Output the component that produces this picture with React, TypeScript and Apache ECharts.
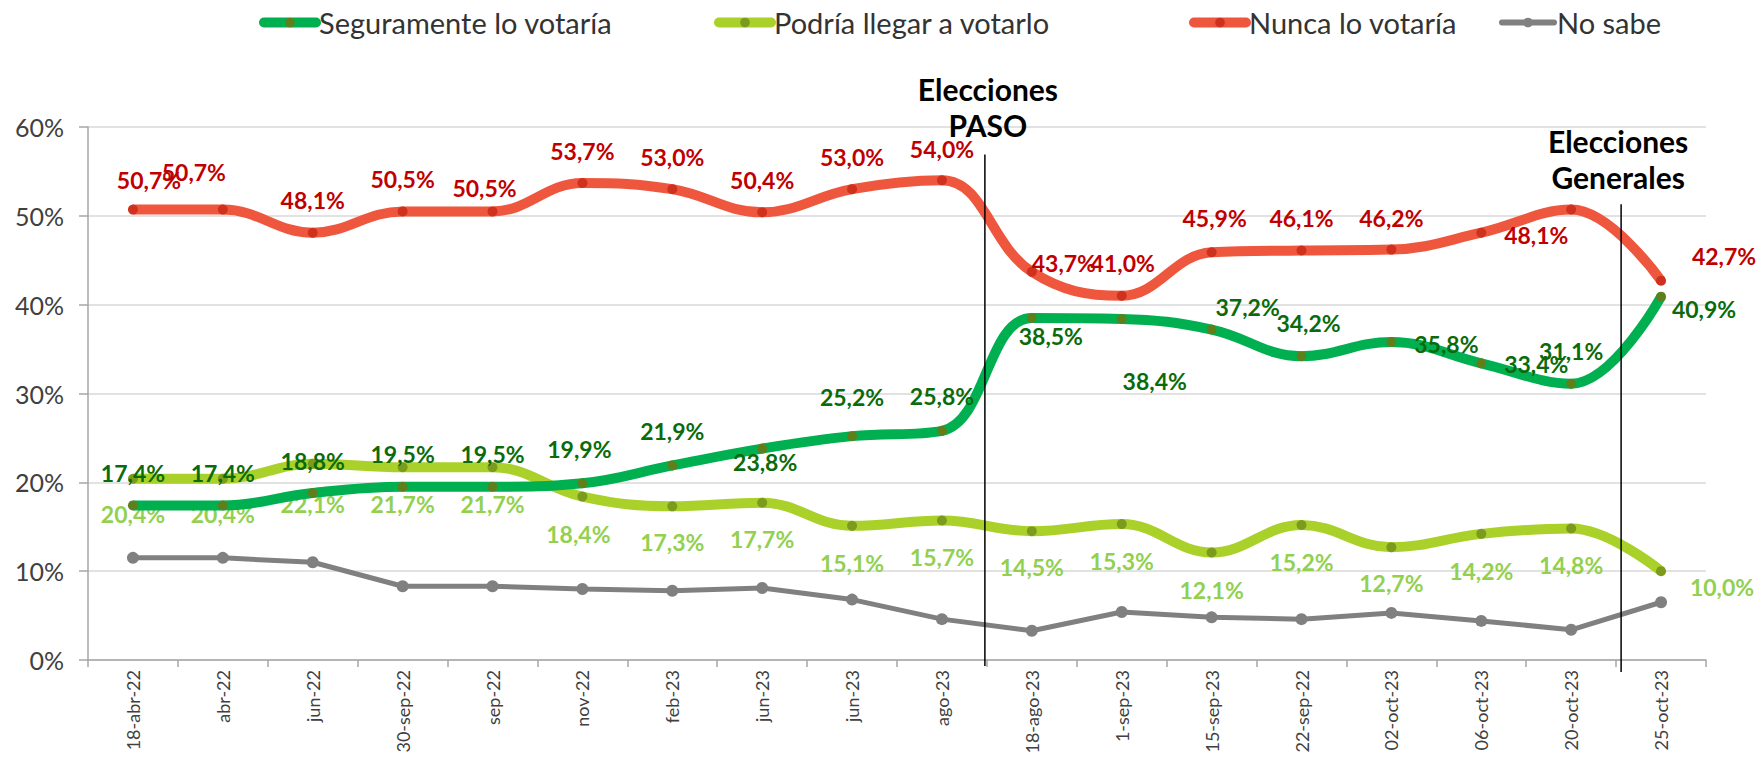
import React, { useEffect, useRef } from "react";
import * as echarts from "echarts";

const categories = ["18-abr-22", "abr-22", "jun-22", "30-sep-22", "sep-22", "nov-22", "feb-23", "jun-23", "jun-23", "ago-23", "18-ago-23", "1-sep-23", "15-sep-23", "22-sep-22", "02-oct-23", "06-oct-23", "20-oct-23", "25-oct-23"];
const seguramente = [17.4, 17.4, 18.8, 19.5, 19.5, 19.9, 21.9, 23.8, 25.2, 25.8, 38.5, 38.4, 37.2, 34.2, 35.8, 33.4, 31.1, 40.9];
const podria = [20.4, 20.4, 22.1, 21.7, 21.7, 18.4, 17.3, 17.7, 15.1, 15.7, 14.5, 15.3, 12.1, 15.2, 12.7, 14.2, 14.8, 10.0];
const nunca = [50.7, 50.7, 48.1, 50.5, 50.5, 53.7, 53.0, 50.4, 53.0, 54.0, 43.7, 41.0, 45.9, 46.1, 46.2, 48.1, 50.7, 42.7];
const noSabe = [11.5, 11.5, 11.0, 8.3, 8.3, 8.0, 7.8, 8.1, 6.8, 4.6, 3.3, 5.4, 4.8, 4.6, 5.3, 4.4, 3.4, 6.5];
const seriesNames = ["Seguramente lo votaría", "Podría llegar a votarlo", "Nunca lo votaría", "No sabe"];

// label placement (layout only)
const segOffsets: (number[] | null)[] = [[0, -32], [0, -32], [0, -32], [0, -33], [0, -33], [-3, -34], [0, -34], [3, 13], [0, -39], [0, -35], [19, 18], [33, 62], [36, -23], [7, -33], [55, 2], [55, 1], [0, -33], [43, 12]];
const podOffsets: (number[] | null)[] = [[0, 35], [0, 35], [0, 40], [0, 37], [0, 37], [-4, 37], [0, 36], [0, 36], [0, 37], [0, 36], [0, 36], [0, 37], [0, 37], [0, 37], [0, 36], [0, 37], [0, 36], [61, 16]];
const nunOffsets: (number[] | null)[] = [[16, -30], [-29, -38], [0, -33], [0, -32], [-8, -23], [0, -32], [0, -32], [0, -32], [0, -32], [0, -31], [32, -9], [1, -33], [3, -34], [0, -32], [0, -32], [55, 2], null, [63, -25]];

const FONT = "Lato";
const fmt = (v: number) => v.toFixed(1).replace(".", ",") + "%";

function withLabels(values: number[], offsets: (number[] | null)[]) {
  return values.map((v, i) => {
    const off = offsets[i];
    if (!off) return { value: v, label: { show: false } };
    return { value: v, label: { show: true, offset: off } };
  });
}

export default function App() {
  const ref = useRef<HTMLDivElement>(null);
  useEffect(() => {
    if (!ref.current) return;
    document.body.style.margin = "0";
    const chart = echarts.init(ref.current, undefined, { renderer: "svg" });
    const labelBase = (color: string) => ({
      show: true,
      position: "inside",
      color,
      fontFamily: FONT,
      fontWeight: "bold",
      fontSize: 23,
      formatter: (p: any) => fmt(p.value),
    });
    const legendText = { fontFamily: FONT, fontSize: 29, color: "#333", padding: [0, 0, 0, -2] };
    const legendPos = [254, 709, 1184, 1494];
    const legendLineW = [10, 10, 10, 6];
    chart.setOption({
      animation: false,
      backgroundColor: "#fff",
      textStyle: { fontFamily: FONT },
      legend: seriesNames.map((n, i) => ({
        data: [n],
        left: legendPos[i],
        top: 3,
        itemWidth: 52,
        itemHeight: 12,
        itemGap: 4,
        lineStyle: { width: legendLineW[i], cap: "round" },
        textStyle: legendText,
      })),
      grid: { left: 88, right: 56, top: 127, bottom: 100 },
      xAxis: {
        type: "category",
        data: categories,
        boundaryGap: true,
        axisLine: { lineStyle: { color: "#a6a6a6", width: 1.5 } },
        axisTick: { show: true, length: 7, lineStyle: { color: "#a6a6a6", width: 1.5 } },
        axisLabel: { rotate: 90, interval: 0, fontSize: 18, color: "#404040", margin: 10, fontFamily: FONT },
      },
      yAxis: {
        type: "value",
        min: 0,
        max: 60,
        interval: 10,
        axisLine: { show: true, lineStyle: { color: "#a6a6a6", width: 1.5 } },
        axisTick: { show: true, length: 9, lineStyle: { color: "#a6a6a6", width: 1.5 } },
        axisLabel: { formatter: "{value}%", fontSize: 25, color: "#404040", margin: 24, fontFamily: FONT },
        splitLine: { lineStyle: { color: "#d9d9d9", width: 1.5 } },
      },
      series: [
        {
          name: seriesNames[3],
          type: "line",
          data: noSabe,
          smooth: false,
          symbol: "circle",
          symbolSize: 12,
          lineStyle: { color: "#808080", width: 5 },
          itemStyle: { color: "#808080" },
          label: { show: false },
          z: 2,
        },
        {
          name: seriesNames[1],
          type: "line",
          data: withLabels(podria, podOffsets),
          smooth: 0.4,
          symbol: "circle",
          symbolSize: 10,
          lineStyle: { color: "#a9d12a", width: 10 },
          itemStyle: { color: "#7b9a1e" },
          label: labelBase("#92d050"),
          z: 3,
        },
        {
          name: seriesNames[0],
          type: "line",
          data: withLabels(seguramente, segOffsets),
          smooth: 0.4,
          symbol: "circle",
          symbolSize: 10,
          lineStyle: { color: "#00b050", width: 10 },
          itemStyle: { color: "#5e801c" },
          label: labelBase("#0b6b0b"),
          z: 4,
        },
        {
          name: seriesNames[2],
          type: "line",
          data: withLabels(nunca, nunOffsets),
          smooth: 0.4,
          symbol: "circle",
          symbolSize: 10,
          lineStyle: { color: "#ee573d", width: 10 },
          itemStyle: { color: "#d0301e" },
          label: labelBase("#c00000"),
          z: 5,
        },
      ],
    });

    const px = (i: number, v: number) => chart.convertToPixel({ gridIndex: 0 }, [i, v]) as number[];
    const pasoX = (px(9, 0)[0] + px(10, 0)[0]) / 2 - 2;
    const genX = (px(16, 0)[0] + px(17, 0)[0]) / 2 + 5;
    const y0 = px(0, 0)[1];
    chart.setOption({
      graphic: [
        { type: "line", shape: { x1: pasoX, y1: px(0, 56.9)[1], x2: pasoX, y2: y0 + 6 }, style: { stroke: "#000", lineWidth: 1.5 }, z: 10 },
        { type: "line", shape: { x1: genX, y1: px(0, 51.3)[1], x2: genX, y2: y0 + 12 }, style: { stroke: "#000", lineWidth: 1.5 }, z: 10 },
        {
          type: "text", x: pasoX + 3, y: 107, z: 10,
          style: { text: "Elecciones\nPASO", fontFamily: FONT, fontWeight: "bold", fontSize: 30, lineHeight: 36, fill: "#000", align: "center", verticalAlign: "middle" },
        },
        {
          type: "text", x: genX - 3, y: 159, z: 10,
          style: { text: "Elecciones\nGenerales", fontFamily: FONT, fontWeight: "bold", fontSize: 30, lineHeight: 36, fill: "#000", align: "center", verticalAlign: "middle" },
        },
      ],
    });
    return () => chart.dispose();
  }, []);
  return <div ref={ref} style={{ width: 1762, height: 760 }} />;
}
